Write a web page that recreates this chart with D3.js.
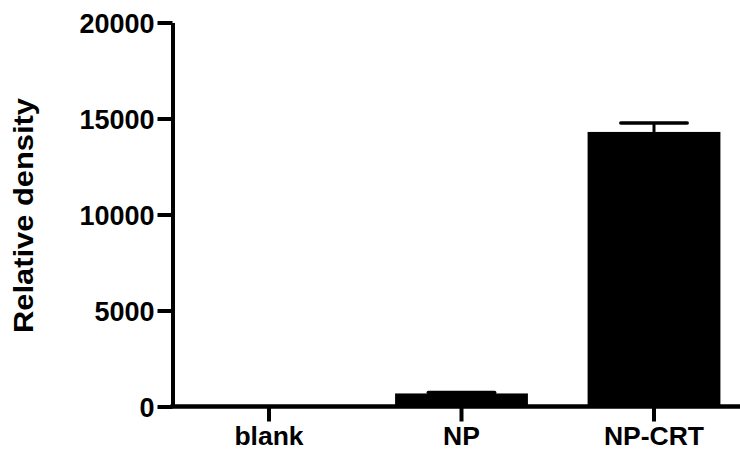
<!DOCTYPE html>
<html>
<head>
<meta charset="utf-8">
<script src="https://cdn.jsdelivr.net/npm/d3@7"></script>
<style>
  html, body { margin: 0; padding: 0; background: #fff; }
  svg { display: block; }
  text { font-family: "Liberation Sans", Arial, sans-serif; font-weight: bold; fill: #000; }
</style>
</head>
<body>
<svg id="chart" width="740" height="452"></svg>
<script>
const categories = ["blank", "NP", "NP-CRT"];
const means = [0, 680, 14300];
const errors = [0, 50, 470];
const yTicks = [0, 5000, 10000, 15000, 20000];
const yLabel = "Relative density";

const svg = d3.select("#chart");
const x = d3.scaleBand().domain(categories).range([172.75, 750.25]).paddingInner(0.31).paddingOuter(0.155);
const y = d3.scaleLinear().domain([0, 20000]).range([406.5, 22.5]);

// bars
svg.selectAll("rect.bar").data(categories).enter().append("rect")
  .attr("class", "bar")
  .attr("x", d => x(d))
  .attr("width", x.bandwidth())
  .attr("y", (d, i) => y(means[i]))
  .attr("height", (d, i) => y(0) - y(means[i]))
  .attr("fill", "#000");

// error bars (upper)
const eb = svg.selectAll("g.err").data(categories.map((c, i) => ({c, m: means[i], e: errors[i]})).filter(d => d.e > 0))
  .enter().append("g").attr("class", "err");
eb.append("line")
  .attr("x1", d => x(d.c) + x.bandwidth() / 2).attr("x2", d => x(d.c) + x.bandwidth() / 2)
  .attr("y1", d => y(d.m)).attr("y2", d => y(d.m + d.e))
  .attr("stroke", "#000").attr("stroke-width", 3);
eb.append("line")
  .attr("x1", d => x(d.c) + x.bandwidth() / 4).attr("x2", d => x(d.c) + 3 * x.bandwidth() / 4)
  .attr("y1", d => y(d.m + d.e)).attr("y2", d => y(d.m + d.e))
  .attr("stroke", "#000").attr("stroke-width", 3.5).attr("stroke-linecap", "round");

// y axis
const yAxis = d3.axisLeft(y).tickValues(yTicks).tickFormat(d3.format("d")).tickSize(15).tickPadding(3).tickSizeOuter(0);
const gy = svg.append("g").attr("transform", "translate(172.5,0)").call(yAxis);
gy.select(".domain").attr("stroke", "#000").attr("stroke-width", 4);
gy.selectAll(".tick line").attr("stroke", "#000").attr("stroke-width", 4);
gy.selectAll(".tick text").attr("font-size", 27).attr("font-family", null).attr("dy", "0.36em").attr("fill", "#000");

// x axis
const xAxis = d3.axisBottom(x).tickSize(15).tickPadding(5).tickSizeOuter(0);
const gx = svg.append("g").attr("transform", "translate(0,406.5)").call(xAxis);
gx.select(".domain").attr("stroke", "#000").attr("stroke-width", 4.5).attr("d", "M170.5,0H750");
gx.selectAll(".tick line").attr("stroke", "#000").attr("stroke-width", 4);
gx.selectAll(".tick text").attr("font-size", 26.5).attr("font-family", null).attr("fill", "#000");

// y label
svg.append("text")
  .attr("transform", "translate(33,215.5) rotate(-90)")
  .attr("text-anchor", "middle")
  .attr("font-size", 27)
  .attr("textLength", 235)
  .attr("lengthAdjust", "spacingAndGlyphs")
  .text(yLabel);
</script>
</body>
</html>
